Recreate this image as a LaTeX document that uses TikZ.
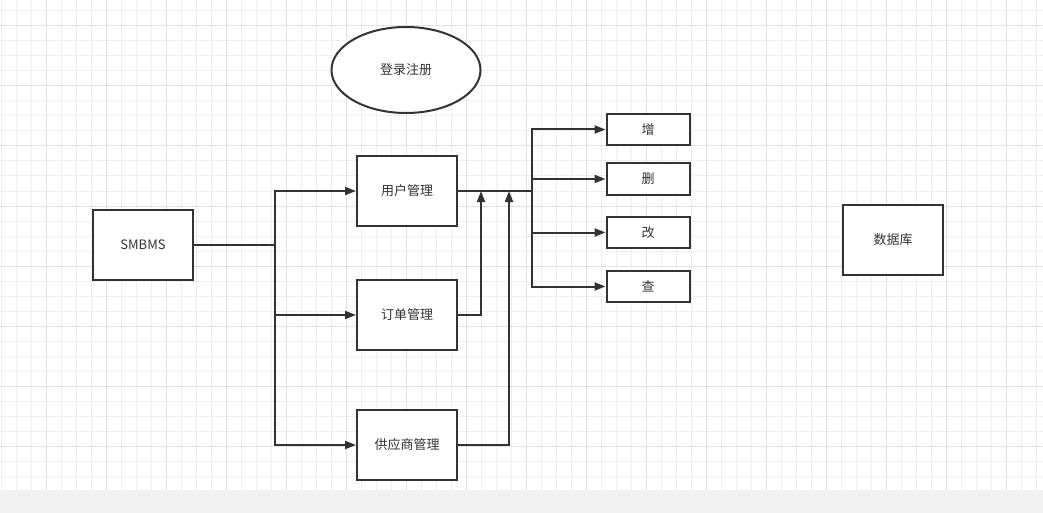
\documentclass[tikz,border=0pt]{standalone}
\usepackage{fontspec}
\setmainfont{Noto Sans CJK SC}
\usepackage{xcolor}
\usepackage{tikz}
\usetikzlibrary{arrows.meta,positioning,shapes.geometric,calc}
\definecolor{inkdark}{HTML}{333333}
\definecolor{gridminor}{HTML}{EFEFEF}
\definecolor{gridmajor}{HTML}{E2E2E2}
\definecolor{stripgray}{HTML}{F1F1F1}

\begin{document}
\begin{tikzpicture}[x=1pt,y=-1pt,
    box/.style={draw=inkdark,line width=2pt,fill=white,inner sep=0pt,
      minimum width=100pt,minimum height=70pt,text=inkdark,
      font=\fontsize{13}{15}\selectfont},
    smallbox/.style={box,minimum width=83pt,minimum height=31pt},
    oval/.style={box,ellipse,minimum width=149pt,minimum height=86pt},
    wire/.style={draw=inkdark,line width=2pt},
    arr/.style={wire,-{Triangle[length=11pt,width=8pt]}}]
    \useasboundingbox (0,0) rectangle (1043,513);
    % background grid
    \fill[white] (0,0) rectangle (1043,490);
    \foreach \gx in {1,16,...,1043} {\draw[gridminor,line width=1pt] (\gx,0) -- (\gx,490);}
    \foreach \gy in {11,26,...,490} {\draw[gridminor,line width=1pt] (0,\gy) -- (1043,\gy);}
    \foreach \gx in {46,106,...,1043} {\draw[gridmajor,line width=1pt] (\gx,0) -- (\gx,490);}
    \foreach \gy in {26,86,...,490} {\draw[gridmajor,line width=1pt] (0,\gy) -- (1043,\gy);}
    \fill[stripgray] (0,490) rectangle (1043,513);
    % nodes
    \node[oval] (login) at (406,70) {登录注册};
    \node[box] (sys) at (143,245) {SMBMS};
    \node[box] (user) at (407,191) {用户管理};
    \node[box] (order) at (407,315) {订单管理};
    \node[box] (supp) at (407,445) {供应商管理};
    \node[smallbox] (add) at (648,129.5) {增};
    \node[smallbox] (del) at (648,179) {删};
    \node[smallbox] (edit) at (648,232.5) {改};
    \node[smallbox] (query) at (648,286.5) {查};
    \node[box] (db) at (893,240) {数据库};
    % connectors
    \coordinate (split) at (275,245);
    \coordinate (fork) at (532,191);
    \coordinate (joinA) at (481,191);
    \coordinate (joinB) at (509,191);
    \draw[wire] (sys.east) -- (split);
    \draw[arr] (split) |- (user.west);
    \draw[arr] (split) |- (order.west);
    \draw[arr] (split) |- (supp.west);
    \draw[wire] (user.east) -- (fork);
    \draw[arr] (fork) |- (add.west);
    \draw[arr] (fork) |- (del.west);
    \draw[arr] (fork) |- (edit.west);
    \draw[arr] (fork) |- (query.west);
    \draw[arr] (order.east) -| (joinA);
    \draw[arr] (supp.east) -| (joinB);
\end{tikzpicture}
\end{document}
